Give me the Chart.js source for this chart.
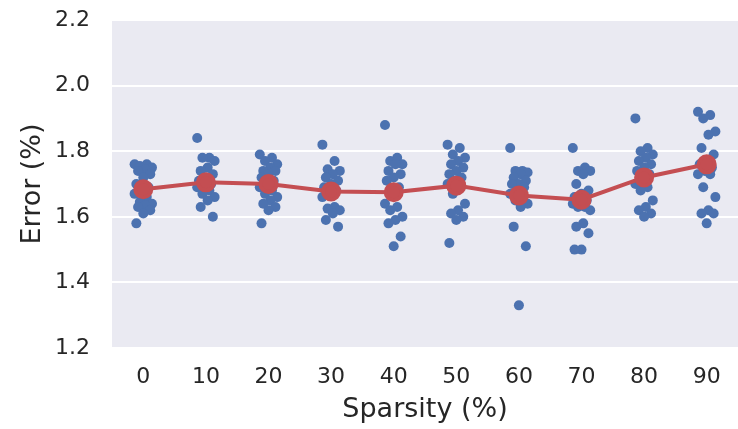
<!DOCTYPE html>
<html>
<head>
<meta charset="utf-8">
<script src="https://cdn.jsdelivr.net/npm/chart.js@4"></script>
<style>
  html, body { margin: 0; padding: 0; background: #ffffff; }
  #wrap { width: 738px; height: 429px; }
</style>
</head>
<body>
<div id="wrap"><canvas id="errChart" width="738" height="429"></canvas></div>
<script>
const categories = ["0", "10", "20", "30", "40", "50", "60", "70", "80", "90"];

// individual runs per sparsity level (error %)
const runs0  = [1.76, 1.76, 1.755, 1.75, 1.745, 1.74, 1.73, 1.72, 1.70, 1.69, 1.68, 1.67, 1.66, 1.645, 1.64, 1.635, 1.63, 1.62, 1.61, 1.58];
const runs10 = [1.84, 1.78, 1.78, 1.77, 1.75, 1.74, 1.73, 1.72, 1.71, 1.70, 1.70, 1.69, 1.68, 1.67, 1.66, 1.65, 1.63, 1.60];
const runs20 = [1.79, 1.78, 1.77, 1.76, 1.75, 1.74, 1.74, 1.73, 1.72, 1.71, 1.70, 1.69, 1.68, 1.67, 1.66, 1.65, 1.64, 1.63, 1.62, 1.58];
const runs30 = [1.82, 1.77, 1.745, 1.74, 1.73, 1.72, 1.71, 1.70, 1.69, 1.68, 1.67, 1.66, 1.63, 1.625, 1.62, 1.61, 1.59, 1.57];
const runs40 = [1.88, 1.78, 1.77, 1.76, 1.76, 1.74, 1.73, 1.72, 1.71, 1.69, 1.68, 1.64, 1.63, 1.62, 1.60, 1.59, 1.58, 1.54, 1.51];
const runs50 = [1.82, 1.81, 1.79, 1.78, 1.77, 1.76, 1.75, 1.74, 1.73, 1.72, 1.71, 1.70, 1.69, 1.67, 1.64, 1.62, 1.61, 1.60, 1.59, 1.52];
const runs60 = [1.81, 1.74, 1.74, 1.735, 1.73, 1.72, 1.71, 1.70, 1.70, 1.69, 1.68, 1.67, 1.66, 1.65, 1.64, 1.63, 1.57, 1.51, 1.33];
const runs70 = [1.81, 1.75, 1.74, 1.74, 1.73, 1.70, 1.68, 1.67, 1.66, 1.65, 1.64, 1.64, 1.63, 1.63, 1.62, 1.58, 1.57, 1.55, 1.50, 1.50];
const runs80 = [1.90, 1.81, 1.80, 1.79, 1.78, 1.77, 1.76, 1.75, 1.74, 1.73, 1.72, 1.70, 1.69, 1.68, 1.65, 1.63, 1.62, 1.61, 1.60];
const runs90 = [1.92, 1.91, 1.90, 1.86, 1.85, 1.81, 1.79, 1.77, 1.76, 1.75, 1.74, 1.73, 1.73, 1.69, 1.66, 1.62, 1.61, 1.61, 1.58];

// mean error per sparsity level (red line)
const meanError = [1.684, 1.705, 1.700, 1.677, 1.675, 1.695, 1.665, 1.652, 1.720, 1.760];

const yTicks = [1.2, 1.4, 1.6, 1.8, 2.0, 2.2];

const allRuns = [runs0, runs10, runs20, runs30, runs40, runs50, runs60, runs70, runs80, runs90];

// strip-plot style horizontal spread (fixed pattern, not data)
const spread = i => (((i * 7) % 11) - 5) / 36;

const stripPoints = [];
allRuns.forEach((runs, c) => {
    runs.forEach((v, i) => stripPoints.push({ x: c + spread(i), y: v }));
});

const meanPoints = meanError.map((v, c) => ({ x: c, y: v }));

const plotBg = {
    id: 'plotBg',
    beforeDraw(chart) {
        const a = chart.chartArea;
        const ctx = chart.ctx;
        ctx.save();
        ctx.fillStyle = '#EAEAF2';
        ctx.fillRect(a.left, a.top, a.right - a.left, a.bottom - a.top);
        ctx.restore();
    }
};

const tickFont = { family: "'DejaVu Sans', sans-serif", size: 22 };
const titleFont = { family: "'DejaVu Sans', sans-serif", size: 27 };

const config = {
    type: 'scatter',
    data: {
        datasets: [
            {
                label: 'runs',
                data: stripPoints,
                backgroundColor: '#4C72B0',
                borderColor: '#4C72B0',
                pointRadius: 5,
                borderWidth: 0,
                order: 2
            },
            {
                type: 'line',
                label: 'mean',
                data: meanPoints,
                borderColor: '#C44E52',
                backgroundColor: '#C44E52',
                borderWidth: 4,
                pointRadius: 8,
                pointHoverRadius: 8,
                tension: 0,
                fill: false,
                order: 1
            }
        ]
    },
    options: {
        responsive: false,
        animation: false,
        layout: { autoPadding: false, padding: { top: 20, right: 0, left: 17, bottom: 3 } },
        plugins: {
            legend: { display: false },
            tooltip: { enabled: false }
        },
        scales: {
            x: {
                type: 'linear',
                min: -0.5,
                max: 9.5,
                border: { display: false },
                grid: { display: false, drawTicks: false },
                afterBuildTicks(scale) {
                    scale.ticks = categories.map((_, i) => ({ value: i }));
                },
                afterFit(scale) {
                    scale.height = 78;
                    scale.paddingLeft = 0;
                    scale.paddingRight = 0;
                },
                ticks: {
                    color: '#262626',
                    font: tickFont,
                    padding: 16,
                    maxRotation: 0,
                    callback: v => categories[v]
                },
                title: {
                    display: true,
                    text: 'Sparsity (%)',
                    color: '#262626',
                    font: titleFont,
                    padding: { top: 2, bottom: 0 }
                }
            },
            y: {
                min: 1.2,
                max: 2.2,
                border: { display: false },
                grid: { color: '#ffffff', lineWidth: 2, drawTicks: false },
                afterBuildTicks(scale) {
                    scale.ticks = yTicks.map(v => ({ value: v }));
                },
                afterFit(scale) {
                    scale.width = 95;
                    scale.paddingTop = 0;
                    scale.paddingBottom = 0;
                },
                ticks: {
                    color: '#262626',
                    font: tickFont,
                    padding: 22,
                    callback: v => v.toFixed(1)
                },
                title: {
                    display: true,
                    text: 'Error (%)',
                    color: '#262626',
                    font: titleFont,
                    padding: { top: 0, bottom: 4 }
                }
            }
        }
    },
    plugins: [plotBg]
};

const errChart = new Chart(document.getElementById('errChart'), config);
</script>
</body>
</html>
